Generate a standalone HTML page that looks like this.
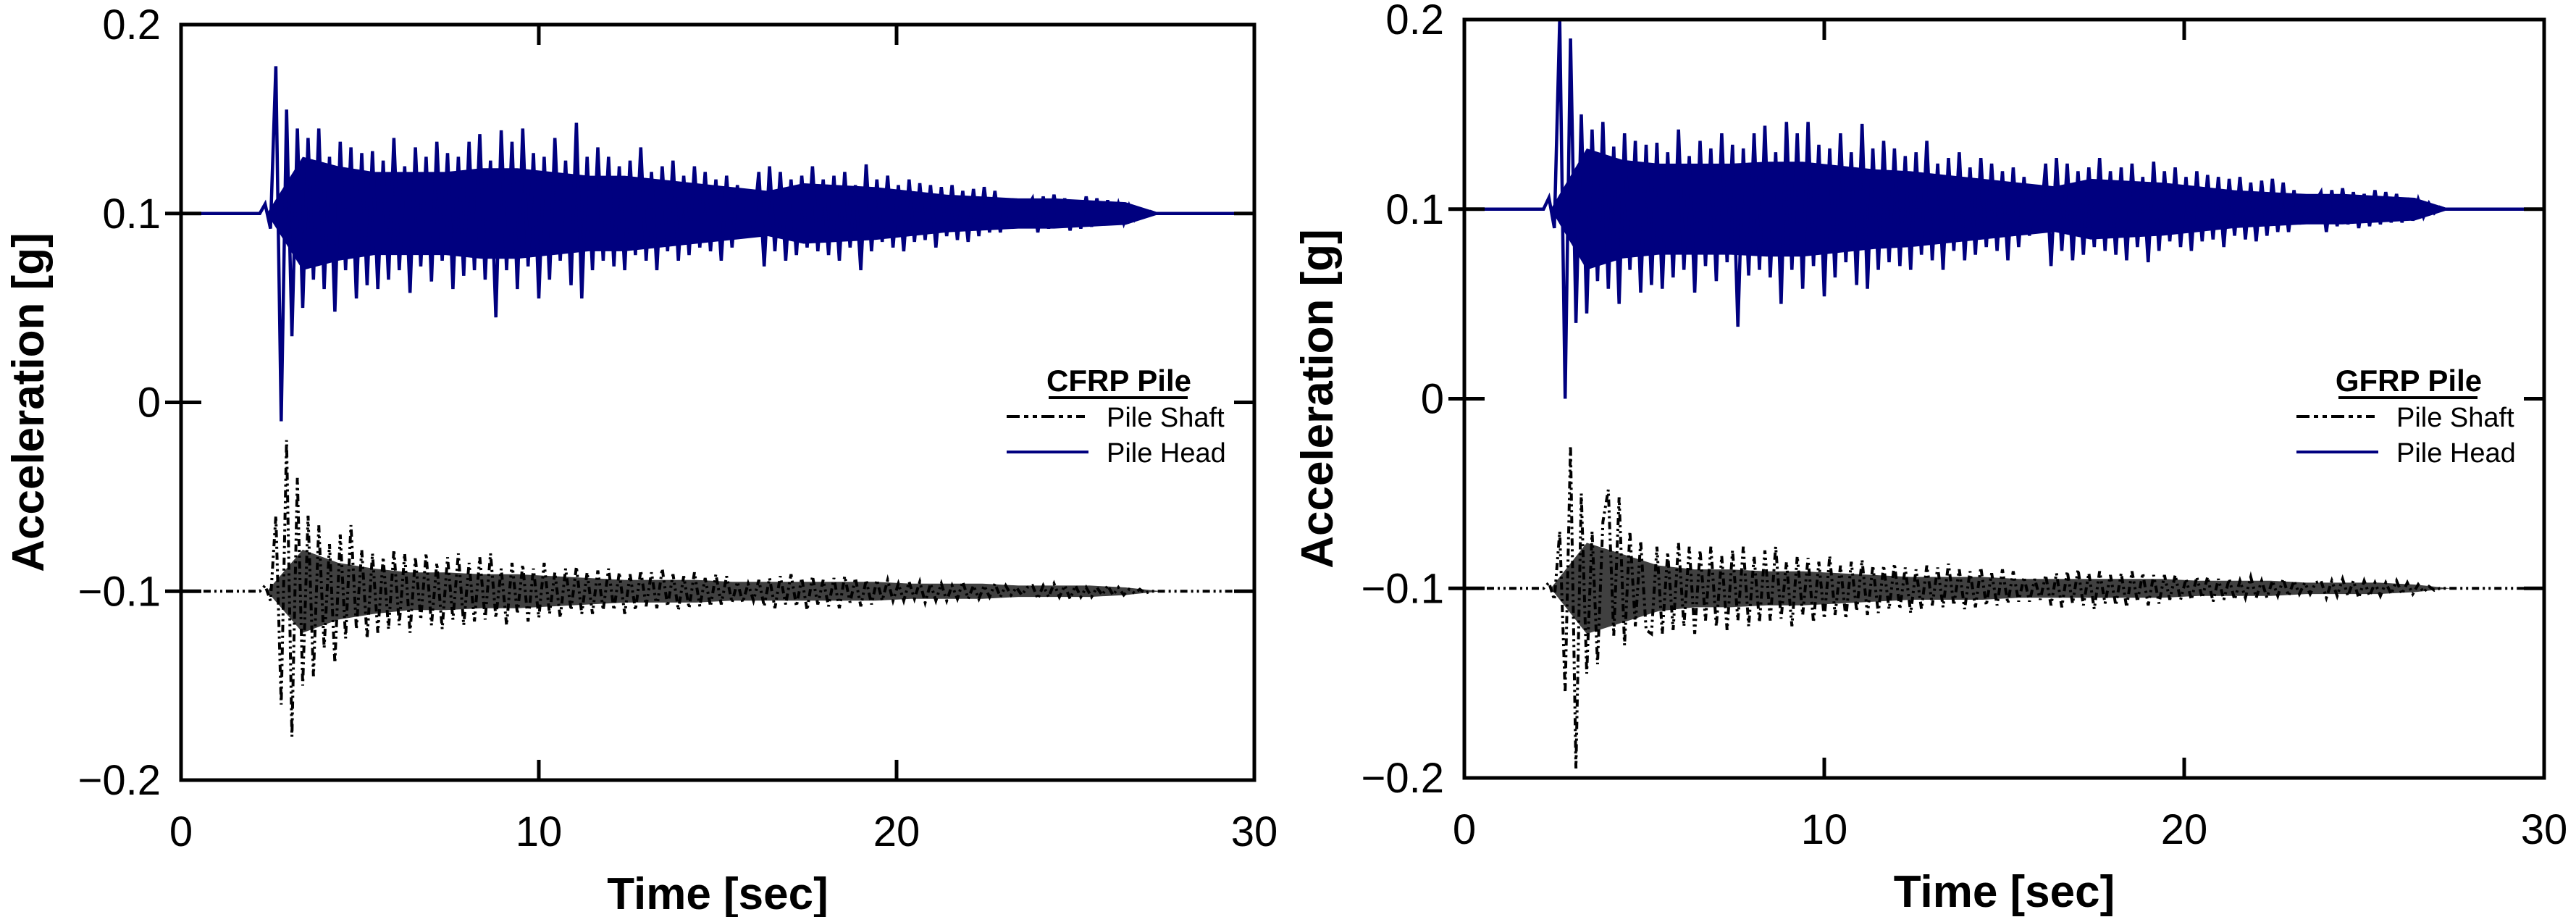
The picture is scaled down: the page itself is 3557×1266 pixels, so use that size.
<!DOCTYPE html>
<html><head><meta charset="utf-8"><style>
html,body{margin:0;padding:0;background:#fff}
svg{display:block}
text{font-family:"Liberation Sans",Arial,sans-serif}
</style></head><body>
<svg id="fig" width="3557" height="1266" viewBox="0 0 3557 1266" xmlns="http://www.w3.org/2000/svg"></svg>
<script>
const xTicks=[0,10,20,30];
const yTicks=[0.2,0.1,0,-0.1,-0.2];
const yTickLabels=["0.2","0.1","0","\u22120.1","\u22120.2"];
const sampleStart=2.2;
const sampleStep=0.15;
const bandStart=2.4;
const bandStep=1;
const headOffset=0.1;
const shaftOffset=-0.1;
const cfrpHead=[5,-8,78,-110,55,-65,45,-50,40,-35,45,-40,30,-52,38,-30,35,-45,32,-38,33,-40,28,-35,40,-30,25,-42,35,-28,30,-36,38,-25,32,-40,30,-33,38,-30,42,-35,28,-55,44,-30,38,-40,45,-28,32,-45,30,-35,40,-25,28,-38,48,-45,30,-30,35,-25,30,-28,25,-30,28,-22,35,-25,22,-30,25,-20,28,-25,20,-22,25,-18,22,-20,18,-25,20,-18,15,-12,10,-8,22,-28,25,-20,22,-25,18,-22,20,-18,25,-20,18,-22,20,-25,22,-18,15,-30,26,-20,18,-15,20,-18,15,-20,18,-15,16,-14,15,-18,14,-12,15,-14,12,-15,13,-12,14,-10,12,-10,8,-6,5,-4,3,8,-10,9,-8,10,-7,8,-9,7,-8,9,-7,8,-6,7,-6,5,-5,4,-3,2,-1,1];
const cfrpShaft=[3,-5,40,-60,80,-77,60,-50,40,-45,35,-30,25,-38,30,-25,35,-20,22,-25,20,-22,18,-20,22,-18,20,-22,18,-15,20,-18,15,-20,18,-15,20,-18,15,-16,18,-15,20,-14,12,-18,15,-12,14,-16,12,-14,15,-12,10,-14,12,-10,13,-12,10,-12,11,-10,12,-10,10,-12,9,-10,11,-8,10,-9,12,-8,9,-10,8,-9,10,-8,7,-8,9,-7,8,-6,5,-6,4,-5,6,-8,7,-9,8,-7,9,-8,7,-10,8,-7,6,-8,7,-9,8,-6,7,-8,6,-7,6,-5,6,-5,4,-5,5,-4,5,-6,4,-5,4,-5,3,-4,5,-4,3,-4,3,-3,4,-3,3,-2,2,-2,2,3,-4,3,-3,4,-3,3,-4,3,-3,2,-3,2,-2,3,-2,2,-2,1,-1,1,-1,0];
const gfrpHead=[6,-10,100,-100,90,-60,50,-55,42,-38,46,-42,33,-50,40,-32,36,-44,34,-40,35,-42,30,-36,42,-32,28,-44,36,-30,32,-38,40,-28,34,-62,32,-35,40,-32,44,-36,30,-50,46,-32,40,-42,46,-30,34,-46,32,-36,40,-28,30,-40,45,-42,32,-32,36,-28,32,-30,28,-32,30,-24,36,-27,24,-32,27,-22,30,-27,22,-24,27,-20,24,-22,20,-27,22,-20,17,-14,12,-10,24,-30,27,-22,24,-27,20,-24,22,-20,27,-22,20,-24,22,-27,24,-20,17,-28,25,-22,20,-17,22,-20,17,-22,20,-17,18,-16,17,-20,16,-14,17,-16,14,-17,15,-14,16,-12,14,-12,10,-8,6,-5,4,9,-12,10,-9,11,-8,9,-10,8,-9,10,-8,9,-7,8,-7,6,-6,5,-4,3,-2,1];
const gfrpShaft=[3,-6,30,-55,75,-95,50,-45,30,-40,35,52,-25,48,-30,30,-20,25,-22,-24,22,-24,19,-22,24,-20,22,-24,20,-17,22,-20,17,-22,20,-17,22,-20,17,-18,20,-17,22,-16,14,-20,17,-14,16,-18,14,-16,17,-14,12,-16,14,-12,15,-14,12,-13,12,-11,13,-11,11,-13,10,-11,12,-9,11,-10,13,-9,10,-11,9,-10,11,-9,8,-9,10,-8,9,-7,6,-7,5,-6,7,-9,8,-10,9,-8,10,-9,8,-11,9,-8,7,-9,8,-10,9,-7,8,-9,7,-8,7,-6,7,-6,5,-6,6,-5,6,-7,5,-6,5,-6,4,-5,6,-5,4,-5,4,-4,5,-4,4,-3,3,-3,3,4,-5,4,-4,5,-4,4,-5,4,-4,3,-4,3,-3,4,-3,3,-3,2,-2,1,-1,0];
const cfrpHeadBand=[0,30,25,22,22,22,24,24,22,20,20,18,16,14,12,16,15,14,12,10,9,8,8,7,6,0];
const cfrpShaftBand=[0,22,15,12,10,10,9,9,8,7,6,6,6,5,5,5,5,5,4,4,4,3,3,3,2,0];
const gfrpHeadBand=[0,32,26,24,24,24,25,25,23,21,20,18,16,14,12,16,15,14,12,10,9,8,8,7,6,0];
const gfrpShaftBand=[0,24,18,12,10,10,9,9,8,7,6,6,6,5,5,5,5,5,4,4,4,3,3,3,2,0];

const NS="http://www.w3.org/2000/svg";
const svg=document.getElementById('fig');
function mk(tag,attrs,parent){const e=document.createElementNS(NS,tag);for(const k in attrs)e.setAttribute(k,attrs[k]);(parent||svg).appendChild(e);return e;}

function panel(P){
  const g=mk('g',{});
  
  
  const sx=t=>P.x0+(t-0)/(30-0)*(P.x1-P.x0);
  const sy=v=>P.y1-(v+0.2)/0.4*(P.y1-P.y0);
  function band(arr,off,color,op,name){
    const top=arr.map((v,i)=>[sx(bandStart+i*bandStep),sy(off+v/1000)]);
    const bot=arr.map((v,i)=>[sx(bandStart+i*bandStep),sy(off-v/1000)]).reverse();
    const p=mk('polygon',{points:top.concat(bot).map(q=>q[0].toFixed(1)+','+q[1].toFixed(1)).join(' '),fill:color,'fill-opacity':op,stroke:'none'},g);
    
    
  }
  function series(arr,off,color,dash,name){
    let pts=[[sx(0),sy(off)],[sx(sampleStart),sy(off)]];
    arr.forEach((v,i)=>{pts.push([sx(sampleStart+(i+1)*sampleStep),sy(off+v/1000)]);});
    const tEnd=sampleStart+(arr.length+1)*sampleStep;
    pts.push([sx(tEnd),sy(off)],[sx(30),sy(off)]);
    const p=mk('polyline',{points:pts.map(q=>q[0].toFixed(1)+','+q[1].toFixed(1)).join(' '),fill:'none',stroke:color,'stroke-width':dash?4:4.5,'stroke-dasharray':dash||'none','stroke-linejoin':'miter'},g);
    
    
  }
  band(P.shaftBand,shaftOffset,'#000',0.75,P.tag+'-pile-shaft-band');
  series(P.shaft,shaftOffset,'#000','10 5 3 5 3 5',P.tag+'-pile-shaft-line');
  band(P.headBand,headOffset,'#00007f',1,P.tag+'-pile-head-band');
  series(P.head,headOffset,'#00007f',null,P.tag+'-pile-head-line');
  const fr=mk('rect',{x:P.x0,y:P.y0,width:P.x1-P.x0,height:P.y1-P.y0,fill:'none',stroke:'#000','stroke-width':5},g);
  
  
  xTicks.forEach(t=>{
    const x=sx(t);
    if(t>0&&t<30){mk('line',{x1:x,y1:P.y1,x2:x,y2:P.y1-28,stroke:'#000','stroke-width':5},g);mk('line',{x1:x,y1:P.y0,x2:x,y2:P.y0+28,stroke:'#000','stroke-width':5},g);}
    const tx=mk('text',{x:x,y:P.y1+91,'font-size':58,'text-anchor':'middle',fill:'#000'},g);
    tx.textContent=t;
    
    
  });
  yTicks.forEach((v,i)=>{
    const y=sy(v);
    if(Math.abs(v)<0.15){mk('line',{x1:P.x0-22,y1:y,x2:P.x0+28,y2:y,stroke:'#000','stroke-width':5},g);mk('line',{x1:P.x1,y1:y,x2:P.x1-28,y2:y,stroke:'#000','stroke-width':5},g);}
    const tx=mk('text',{x:P.x0-28,y:y+20,'font-size':58,'text-anchor':'end',fill:'#000'},g);
    tx.textContent=yTickLabels[i];
    
    
  });
  const xt=mk('text',{x:(P.x0+P.x1)/2,y:P.y1+178,'font-size':62,'font-weight':'bold','text-anchor':'middle',fill:'#000'},g);
  xt.textContent='Time [sec]';
  
  
  const yt=mk('text',{x:0,y:0,'font-size':62,'font-weight':'bold','text-anchor':'middle',fill:'#000',transform:`translate(${P.ytx},${(P.y0+P.y1)/2}) rotate(-90)`},g);
  yt.textContent='Acceleration [g]';
  
  
  const L=P.x1-1732;
  const lg=mk('g',{},g);
  
  
  const lt=mk('text',{x:1545+L,y:540,'font-size':42,'font-weight':'bold','text-anchor':'middle',fill:'#000'},lg);
  lt.textContent=P.title;
  
  
  mk('line',{x1:1448+L,y1:549,x2:1640+L,y2:549,stroke:'#000','stroke-width':4},lg);
  mk('line',{x1:1390+L,y1:575,x2:1498+L,y2:575,stroke:'#000','stroke-width':4,'stroke-dasharray':'18 6 6 6 6 6'},lg);
  const s1=mk('text',{x:1528+L,y:589,'font-size':38,fill:'#000'},lg);
  s1.textContent='Pile Shaft';
  
  
  mk('line',{x1:1390+L,y1:624,x2:1503+L,y2:624,stroke:'#00007f','stroke-width':4},lg);
  const s2=mk('text',{x:1528+L,y:638,'font-size':38,fill:'#000'},lg);
  s2.textContent='Pile Head';
  
  
}
panel({name:'cfrp-panel',tag:'cfrp',title:'CFRP Pile',x0:250,x1:1732,y0:34,y1:1077,ytx:60,head:cfrpHead,shaft:cfrpShaft,headBand:cfrpHeadBand,shaftBand:cfrpShaftBand});
panel({name:'gfrp-panel',tag:'gfrp',title:'GFRP Pile',x0:2022,x1:3513,y0:27,y1:1074,ytx:1840,head:gfrpHead,shaft:gfrpShaft,headBand:gfrpHeadBand,shaftBand:gfrpShaftBand});
</script>
</body></html>
